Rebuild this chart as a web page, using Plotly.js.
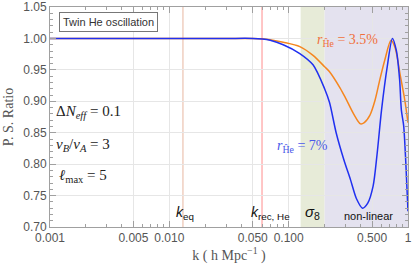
<!DOCTYPE html>
<html>
<head>
<meta charset="utf-8">
<script src="https://cdn.plot.ly/plotly-3.0.1.min.js"></script>
<style>html,body{margin:0;padding:0;background:#fff;}#chart{width:412px;height:267px;}</style>
</head>
<body>
<div id="chart"></div>
<script>
// k values (h/Mpc) and power-spectrum ratios
var kOrange = [0.001, 0.01, 0.03, 0.05, 0.06, 0.07, 0.09, 0.124, 0.16, 0.2, 0.22, 0.27, 0.3, 0.35, 0.4, 0.43, 0.48, 0.53, 0.58, 0.64, 0.72, 0.78, 0.86, 0.94, 1.0];
var rOrange = [1.0, 1.0, 1.0, 1.0, 0.9995, 0.998, 0.994, 0.987, 0.973, 0.955, 0.947, 0.921, 0.905, 0.88, 0.864, 0.866, 0.878, 0.902, 0.934, 0.966, 0.997, 0.985, 0.942, 0.902, 0.866];
var kBlue = [0.001, 0.01, 0.03, 0.05, 0.06, 0.07, 0.09, 0.124, 0.16, 0.2, 0.22, 0.25, 0.29, 0.33, 0.37, 0.415, 0.46, 0.51, 0.55, 0.6, 0.67, 0.74, 0.8, 0.85, 0.88, 0.92, 0.96, 1.0];
var rBlue = [1.0, 1.0, 1.0, 1.0, 0.999, 0.997, 0.99, 0.976, 0.958, 0.92, 0.898, 0.85, 0.807, 0.775, 0.745, 0.73, 0.738, 0.765, 0.815, 0.886, 0.955, 1.0, 0.98, 0.935, 0.886, 0.861, 0.8, 0.725];
var kEq = 0.013, kRec = 0.0598;
var sigma8Band = [0.126, 0.2];
var nonLinearBand = [0.2, 1.0];
var xTickVals = [0.001, 0.005, 0.01, 0.05, 0.1, 0.5, 1];
var xTickText = ['0.001', '0.005', '0.010', '0.050', '0.100', '0.500', '1'];
var yTickVals = [0.70, 0.75, 0.80, 0.85, 0.90, 0.95, 1.00, 1.05];
var xMinor = [];
[0.001, 0.01, 0.1].forEach(function(d){ for (var m = 2; m <= 9; m++) { if (m !== 5) xMinor.push(d*m); } });
var yMinor = [];
for (var i = 70; i <= 105; i++) { if (i % 5 !== 0) yMinor.push(i/100); }

var frame = '#a0a0a0';
var serif = 'Liberation Serif, Times New Roman, serif';
var sans = 'Liberation Sans, Arial, sans-serif';

var traces = [
  {x: kOrange, y: rOrange, type: 'scatter', mode: 'lines', line: {color: '#f5861f', width: 1.5, shape: 'spline', smoothing: 0.8}, hoverinfo: 'skip'},
  {x: kBlue, y: rBlue, type: 'scatter', mode: 'lines', line: {color: '#2030f0', width: 1.5, shape: 'spline', smoothing: 0.8}, hoverinfo: 'skip'},
  {x: [], y: [], xaxis: 'x2', yaxis: 'y2', type: 'scatter'}
];

var layout = {
  width: 412, height: 267,
  margin: {l: 50, r: 4, t: 7, b: 40},
  paper_bgcolor: '#fff', plot_bgcolor: '#fff',
  showlegend: false,
  xaxis: {
    type: 'log', range: [-3, 0], tickmode: 'array', tickvals: xTickVals, ticktext: xTickText,
    ticks: 'inside', ticklen: 6, tickcolor: frame, showline: true, linecolor: frame, linewidth: 1, mirror: 'ticks',
    showgrid: true, gridcolor: '#e6e6e6', zeroline: false,
    tickfont: {family: sans, size: 12, color: '#555'},
    title: {text: 'k ( h Mpc<sup>−1</sup> )', font: {family: serif, size: 14, color: '#555'}, standoff: 4}
  },
  yaxis: {
    range: [0.70, 1.05], tickmode: 'array', tickvals: yTickVals, tickformat: '.2f',
    ticks: 'inside', ticklen: 6, tickcolor: frame, showline: true, linecolor: frame, linewidth: 1, mirror: 'ticks',
    showgrid: true, gridcolor: '#e6e6e6', zeroline: false,
    tickfont: {family: sans, size: 12, color: '#555'},
    title: {text: 'P. S. Ratio', font: {family: serif, size: 14, color: '#555'}, standoff: 6}
  },
  xaxis2: {type: 'log', range: [-3, 0], overlaying: 'x', tickmode: 'array', tickvals: xMinor, ticks: 'inside', ticklen: 3, tickcolor: frame, showticklabels: false, showgrid: false, zeroline: false, showline: false, mirror: 'ticks', anchor: 'y'},
  yaxis2: {range: [0.70, 1.05], overlaying: 'y', tickmode: 'array', tickvals: yMinor, ticks: 'inside', ticklen: 3, tickcolor: frame, showticklabels: false, showgrid: false, zeroline: false, showline: false, mirror: 'ticks', anchor: 'x'},
  shapes: [
    {type: 'rect', xref: 'x', yref: 'paper', x0: sigma8Band[0], x1: sigma8Band[1], y0: 0, y1: 1, fillcolor: '#e7ebd8', line: {width: 0}, layer: 'below'},
    {type: 'rect', xref: 'x', yref: 'paper', x0: nonLinearBand[0], x1: nonLinearBand[1], y0: 0, y1: 1, fillcolor: '#e4e2ef', line: {width: 0}, layer: 'below'},
    {type: 'line', xref: 'x', yref: 'paper', x0: kEq, x1: kEq, y0: 0, y1: 1, line: {color: '#efcfc0', width: 1.5}, layer: 'below'},
    {type: 'line', xref: 'x', yref: 'paper', x0: kRec, x1: kRec, y0: 0, y1: 1, line: {color: '#ffb3b3', width: 1.5}, layer: 'below'}
  ],
  annotations: [
    {xref: 'paper', yref: 'paper', x: 0.025, y: 0.932, xanchor: 'left', yanchor: 'middle', text: 'Twin He oscillation', showarrow: false, font: {family: sans, size: 11, color: '#333'}, bordercolor: '#777', borderwidth: 1, borderpad: 3, bgcolor: '#fff'},
    {xref: 'paper', yref: 'paper', x: 0.012, y: 0.523, xanchor: 'left', yanchor: 'middle', text: 'Δ<i>N</i><sub><i>eff</i></sub> = 0.1', showarrow: false, font: {family: serif, size: 15, color: '#222'}},
    {xref: 'paper', yref: 'paper', x: 0.012, y: 0.373, xanchor: 'left', yanchor: 'middle', text: '<i>v</i><sub><i>B</i></sub>/<i>v</i><sub><i>A</i></sub> = 3', showarrow: false, font: {family: serif, size: 15, color: '#222'}},
    {xref: 'paper', yref: 'paper', x: 0.02, y: 0.232, xanchor: 'left', yanchor: 'middle', text: '<i>ℓ</i><sub>max</sub> = 5', showarrow: false, font: {family: serif, size: 15, color: '#222'}},
    {xref: 'paper', yref: 'paper', x: 0.74, y: 0.85, xanchor: 'left', yanchor: 'middle', text: '<i>r</i><sub>Ĥe</sub> = 3.5%', showarrow: false, font: {family: serif, size: 14, color: '#f0703c'}},
    {xref: 'paper', yref: 'paper', x: 0.628, y: 0.368, xanchor: 'left', yanchor: 'middle', text: '<i>r</i><sub>Ĥe</sub> = 7%', showarrow: false, font: {family: serif, size: 14, color: '#4a58ea'}},
    {xref: 'paper', yref: 'paper', x: 0.377, y: 0.064, xanchor: 'center', yanchor: 'middle', text: '<i>k</i><sub>eq</sub>', showarrow: false, font: {family: sans, size: 14, color: '#111'}},
    {xref: 'paper', yref: 'paper', x: 0.556, y: 0.064, xanchor: 'left', yanchor: 'middle', text: '<i>k</i><sub>rec, He</sub>', showarrow: false, font: {family: sans, size: 14, color: '#111'}},
    {xref: 'paper', yref: 'paper', x: 0.732, y: 0.064, xanchor: 'center', yanchor: 'middle', text: '<i>σ</i><sub>8</sub>', showarrow: false, font: {family: sans, size: 15, color: '#111'}},
    {xref: 'paper', yref: 'paper', x: 0.891, y: 0.05, xanchor: 'center', yanchor: 'middle', text: 'non-linear', showarrow: false, font: {family: sans, size: 11, color: '#111'}}
  ]
};

Plotly.newPlot('chart', traces, layout, {staticPlot: true, displayModeBar: false});
</script>
</body>
</html>
